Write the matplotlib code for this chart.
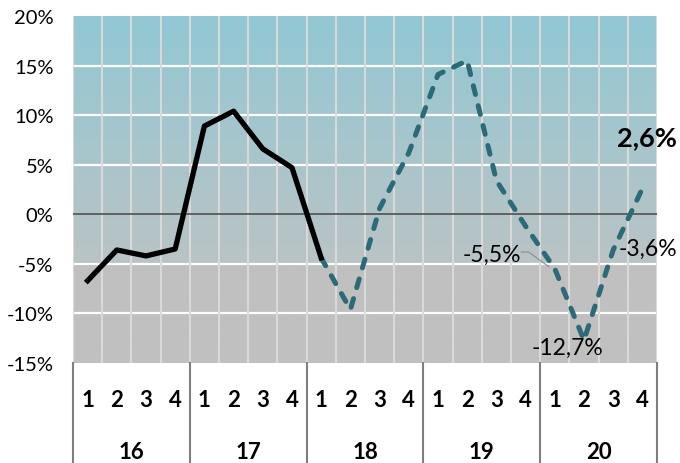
import numpy as np
import matplotlib.pyplot as plt
from matplotlib.colors import to_rgb
from matplotlib.transforms import blended_transform_factory

plt.rcParams['font.family'] = ['Lato', 'DejaVu Sans']

years = ['16', '17', '18', '19', '20']
quarters = ['1', '2', '3', '4']
# growth per quarter, %
actual = [-6.7, -3.6, -4.2, -3.5, 8.9, 10.4, 6.6, 4.7, -4.4]
forecast = [-4.4, -9.6, 0.6, 6.2, 14.1, 15.5, 3.4, -1.2, -5.5, -12.7, -3.6, 2.6]
yticks = [-15, -10, -5, 0, 5, 10, 15, 20]

n_q = len(years) * len(quarters)
x_act = np.arange(len(actual))
x_fc = np.arange(len(actual) - 1, len(actual) - 1 + len(forecast))

fig = plt.figure(figsize=(6.8, 4.64), dpi=100)
ax = fig.add_axes([73 / 680, 100 / 464, 584 / 680, 347 / 464])
ax.set_xlim(-0.5, n_q - 0.5)
ax.set_ylim(-15, 20)

# background: teal gradient down to -5%, flat grey below
ys = np.linspace(20, -15, 350)
top, mid, low = np.array(to_rgb('#92c8d4')), np.array(to_rgb('#bac3c5')), np.array(to_rgb('#c0c0c0'))
rows = []
for y in ys:
    if y >= -5:
        t = (20 - y) / 25
        rows.append(top * (1 - t) + mid * t)
    else:
        rows.append(low)
img = np.array(rows)[:, None, :].repeat(2, axis=1)
ax.imshow(img, extent=(-0.5, n_q - 0.5, -15, 20), aspect='auto', zorder=0, interpolation='bilinear')

for y in yticks:
    if y == 0:
        ax.axhline(0, color='#5a5a5a', lw=1.3, zorder=2)
    elif -15 < y < 20:
        ax.axhline(y, color='white', lw=1.6, zorder=1)
for k in range(n_q + 1):
    ax.axvline(k - 0.5, color='#d9d9d9', lw=1.5, zorder=1)

for s in ax.spines.values():
    s.set_visible(False)
ax.set_xticks([])
ax.set_yticks(yticks)
ax.set_yticklabels([f'{v}%' for v in yticks], fontsize=14.5)
ax.tick_params(axis='y', length=0, pad=14)

ax.plot(x_act, actual, color='black', lw=3.8, solid_joinstyle='round', zorder=4)
ax.plot(x_fc, forecast, color='#2b6a76', lw=3.6, dashes=(1.8, 2.3),
        dash_capstyle='round', solid_joinstyle='round', zorder=3)

# category axis below the plot
tr = blended_transform_factory(ax.transData, ax.transAxes)
for i, yr in enumerate(years):
    for j, q in enumerate(quarters):
        ax.text(i * 4 + j, -0.105, q, transform=tr, ha='center', va='center',
                fontsize=16, fontweight='bold')
    ax.text(i * 4 + 1.5, -0.255, yr, transform=tr, ha='center', va='center',
            fontsize=16, fontweight='bold')
for i in range(len(years) + 1):
    ax.plot([i * 4 - 0.5] * 2, [0, -0.3], transform=tr, color='#7f7f7f', lw=1.5, clip_on=False)

# data labels
lbl = dict(fontsize=16.5, ha='center', va='center', zorder=5)
ax.text(x_fc[8] - 2.15, forecast[8] + 1.5, '-5,5%', **lbl)
ax.plot([x_fc[8] - 1.15, x_fc[8] - 0.9, x_fc[8] - 0.2], [forecast[8] + 1.7, forecast[8] + 1.7, forecast[8] + 0.2],
        color='#8c8c8c', lw=0.8, zorder=5)
ax.text(x_fc[9] - 0.55, forecast[9] - 0.7, '-12,7%', **lbl)
ax.text(x_fc[10] + 1.2, forecast[10] + 0.2, '-3,6%', **lbl)
ax.text(x_fc[11] + 0.15, forecast[11] + 5.2, '2,6%', fontsize=19.5, fontweight='bold',
        ha='center', va='center', zorder=5)

fig.savefig('out.png', dpi=100)
